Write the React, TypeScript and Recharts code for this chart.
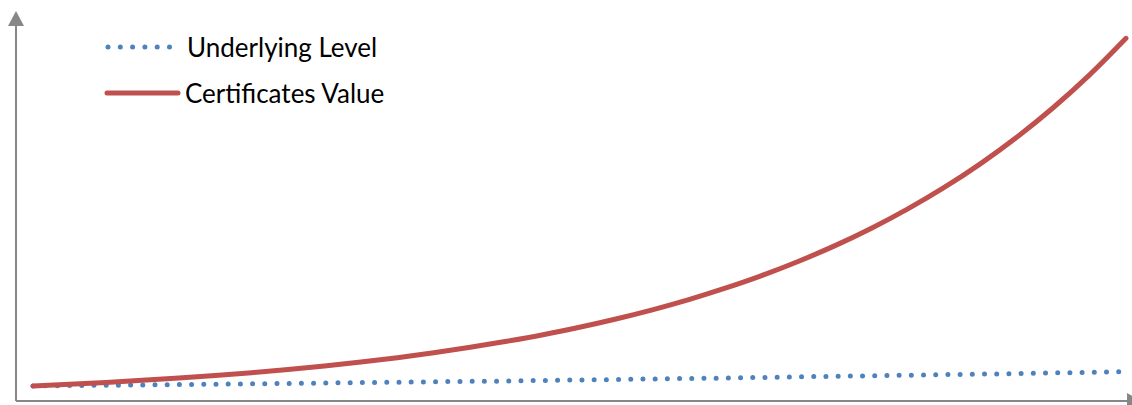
import React from 'react';
import { LineChart, Line, XAxis, YAxis } from 'recharts';

// periods along the horizontal axis (no tick labels in the picture)
const periods = [
  0, 1, 2, 3, 4, 5, 6, 7, 8, 9, 10, 11, 12, 13, 14, 15, 16, 17, 18, 19, 20, 21, 22, 23, 24, 25, 26,
  27, 28, 29, 30,
];

// values, both start at 100
const underlyingLevel = [
  100, 103, 105, 107, 110, 112, 115, 117, 120, 123, 125, 128, 131, 133, 137, 140, 143, 147, 150,
  153, 157, 161, 165, 168, 172, 176, 179, 183, 187, 191, 195,
];

const certificatesValue = [
  100, 111, 124, 138, 153, 170, 189, 210, 234, 260, 289, 322, 358, 398, 442, 492, 547, 608, 676,
  752, 836, 930, 1034, 1150, 1279, 1422, 1581, 1758, 1955, 2174, 2418,
];

const seriesNames = ['Underlying Level', 'Certificates Value'];

const BLUE = '#4f81bd';
const RED = '#c0504d';
const AXIS = '#878787';

const data = periods.map((p, i) => ({
  period: p,
  underlying: underlyingLevel[i],
  certificates: certificatesValue[i],
}));

function LegendBox() {
  return (
    <div
      style={{
        position: 'absolute',
        left: 104,
        top: 24,
        fontFamily: 'Lato, sans-serif',
        fontSize: 26,
        color: '#000',
        lineHeight: 1,
      }}
    >
      <div style={{ display: 'flex', alignItems: 'center', height: 46 }}>
        <svg width={83} height={12} style={{ display: 'block' }}>
          <line
            x1={4}
            y1={6}
            x2={70}
            y2={6}
            stroke={BLUE}
            strokeWidth={5}
            strokeLinecap="round"
            strokeDasharray="0 12.3"
          />
        </svg>
        <span>{seriesNames[0]}</span>
      </div>
      <div style={{ display: 'flex', alignItems: 'center', height: 46 }}>
        <svg width={81} height={12} style={{ display: 'block' }}>
          <line x1={3} y1={6} x2={74} y2={6} stroke={RED} strokeWidth={5} strokeLinecap="round" />
        </svg>
        <span>{seriesNames[1]}</span>
      </div>
    </div>
  );
}

export default function App() {
  return (
    <div style={{ position: 'absolute', left: 0, top: 0, width: 1132, height: 405, background: '#fff' }}>
      <svg width={0} height={0} style={{ position: 'absolute' }}>
        <defs>
          <marker
            id="axisArrow"
            markerUnits="userSpaceOnUse"
            markerWidth={16}
            markerHeight={16}
            refX={0}
            refY={8}
            orient="auto-start-reverse"
          >
            <path d="M0,0 L15,8 L0,16 Z" fill={AXIS} />
          </marker>
        </defs>
      </svg>
      <LineChart width={1132} height={405} data={data} margin={{ top: 26, right: 5, bottom: 3, left: 15 }}>
        <XAxis
          dataKey="period"
          type="number"
          domain={[0, 30]}
          padding={{ left: 17, right: 1 }}
          height={1}
          tick={false}
          tickLine={false}
          axisLine={{ stroke: AXIS, strokeWidth: 2, markerEnd: 'url(#axisArrow)' }}
        />
        <YAxis
          type="number"
          domain={[0, 2500]}
          width={1}
          tick={false}
          tickLine={false}
          axisLine={{ stroke: AXIS, strokeWidth: 2, markerStart: 'url(#axisArrow)' }}
        />
        <Line
          type="monotone"
          dataKey="underlying"
          name={seriesNames[0]}
          stroke={BLUE}
          strokeWidth={5}
          strokeLinecap="round"
          strokeDasharray="0 12.2"
          dot={false}
          isAnimationActive={false}
        />
        <Line
          type="monotone"
          dataKey="certificates"
          name={seriesNames[1]}
          stroke={RED}
          strokeWidth={5}
          strokeLinecap="round"
          dot={false}
          isAnimationActive={false}
        />
      </LineChart>
      <LegendBox />
    </div>
  );
}
